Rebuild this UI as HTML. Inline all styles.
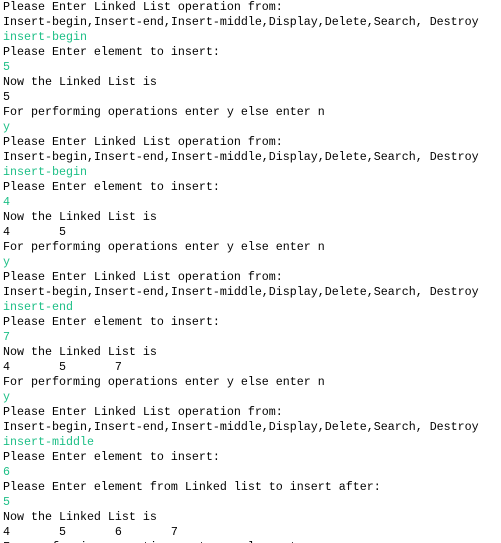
<!DOCTYPE html>
<html><head><meta charset="utf-8"><style>
html,body{margin:0;padding:0;background:#fff;width:501px;height:543px;overflow:hidden}
pre{margin:0;padding:0 0 0 3px;font-family:"Liberation Mono",monospace;font-size:11.67px;line-height:15px;color:#000;tab-size:8;-moz-tab-size:8}
.g{color:#1dbf86}
</style></head><body><pre>Please Enter Linked List operation from:
Insert-begin,Insert-end,Insert-middle,Display,Delete,Search, Destroy
<span class="g">insert-begin</span>
Please Enter element to insert:
<span class="g">5</span>
Now the Linked List is
5
For performing operations enter y else enter n
<span class="g">y</span>
Please Enter Linked List operation from:
Insert-begin,Insert-end,Insert-middle,Display,Delete,Search, Destroy
<span class="g">insert-begin</span>
Please Enter element to insert:
<span class="g">4</span>
Now the Linked List is
4	5
For performing operations enter y else enter n
<span class="g">y</span>
Please Enter Linked List operation from:
Insert-begin,Insert-end,Insert-middle,Display,Delete,Search, Destroy
<span class="g">insert-end</span>
Please Enter element to insert:
<span class="g">7</span>
Now the Linked List is
4	5	7
For performing operations enter y else enter n
<span class="g">y</span>
Please Enter Linked List operation from:
Insert-begin,Insert-end,Insert-middle,Display,Delete,Search, Destroy
<span class="g">insert-middle</span>
Please Enter element to insert:
<span class="g">6</span>
Please Enter element from Linked list to insert after:
<span class="g">5</span>
Now the Linked List is
4	5	6	7
For performing operations enter y else enter n
</pre></body></html>
